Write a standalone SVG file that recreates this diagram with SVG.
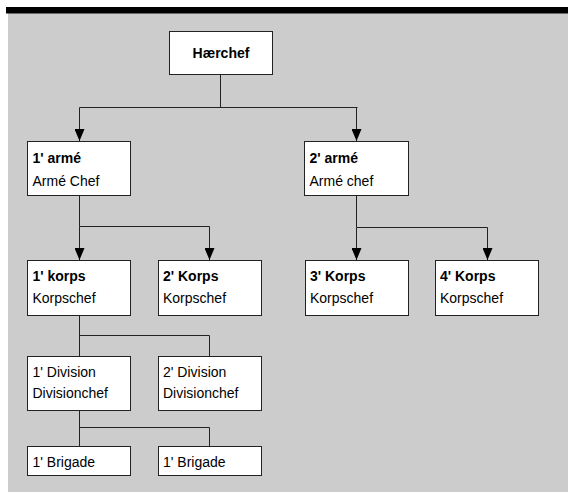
<svg xmlns="http://www.w3.org/2000/svg" width="568" height="492" viewBox="0 0 568 492">
<style>
.box{fill:#fff;stroke:#222;stroke-width:1}
.ln{fill:none;stroke:#222;stroke-width:1}
text{font-family:"Liberation Sans",Arial,sans-serif;font-size:14px;fill:#000}
.b{font-weight:bold}
</style>
<defs>
<marker id="arr" viewBox="0 0 12 10" refX="12" refY="5" markerWidth="12" markerHeight="10" markerUnits="userSpaceOnUse" orient="auto">
<path d="M0,0 L12,5 L0,10 z" fill="#000"/>
</marker>
</defs>
<rect x="0" y="0" width="568" height="492" fill="#fff"/>
<rect x="8" y="13" width="560" height="479" fill="#cccccc"/>
<rect x="6" y="7" width="562" height="6.5" fill="#000"/>
<g id="connectors">
<path class="ln" d="M220.5,75 V107.5 M79.5,107.5 H357.5"/>
<path class="ln" d="M79.5,107.5 V141" marker-end="url(#arr)"/>
<path class="ln" d="M356.5,107.5 V141" marker-end="url(#arr)"/>
<path class="ln" d="M79.5,196 V226.5 H209.5"/>
<path class="ln" d="M79.5,226.5 V260" marker-end="url(#arr)"/>
<path class="ln" d="M209.5,226.5 V260" marker-end="url(#arr)"/>
<path class="ln" d="M356.5,196 V227.5 H487.5"/>
<path class="ln" d="M356.5,227.5 V260" marker-end="url(#arr)"/>
<path class="ln" d="M487.5,227.5 V260" marker-end="url(#arr)"/>
<path class="ln" d="M79.5,316 V356 M79.5,335.5 H209.5 V356"/>
<path class="ln" d="M79.5,411 V446 M79.5,427.5 H209.5 V446"/>
</g>
<g id="haerchef"><rect class="box" x="169.5" y="31.5" width="103" height="43"/><text class="b" x="221" y="58" text-anchor="middle">Hærchef</text></g>
<g id="arme1"><rect class="box" x="27.5" y="141.5" width="103" height="54"/><text class="b" x="32.5" y="162.5">1' armé</text><text x="32.5" y="185.5">Armé Chef</text></g>
<g id="arme2"><rect class="box" x="304.5" y="141.5" width="104" height="54"/><text class="b" x="309.5" y="162.5">2' armé</text><text x="309.5" y="185.5">Armé chef</text></g>
<g id="korps1"><rect class="box" x="27.5" y="260.5" width="103" height="55"/><text class="b" x="32.5" y="281">1' korps</text><text x="32.5" y="303">Korpschef</text></g>
<g id="korps2"><rect class="box" x="158.5" y="260.5" width="103" height="55"/><text class="b" x="163" y="281">2' Korps</text><text x="163" y="303">Korpschef</text></g>
<g id="korps3"><rect class="box" x="305.5" y="260.5" width="103" height="55"/><text class="b" x="310" y="281">3' Korps</text><text x="310" y="303">Korpschef</text></g>
<g id="korps4"><rect class="box" x="435.5" y="260.5" width="103" height="55"/><text class="b" x="440" y="281">4' Korps</text><text x="440" y="303">Korpschef</text></g>
<g id="division1"><rect class="box" x="27.5" y="356.5" width="103" height="54"/><text x="32.5" y="377">1' Division</text><text x="32.5" y="398">Divisionchef</text></g>
<g id="division2"><rect class="box" x="158.5" y="356.5" width="103" height="54"/><text x="163" y="377">2' Division</text><text x="163" y="398">Divisionchef</text></g>
<g id="brigade1"><rect class="box" x="27.5" y="446.5" width="103" height="29"/><text x="32.5" y="467">1' Brigade</text></g>
<g id="brigade2"><rect class="box" x="158.5" y="446.5" width="103" height="29"/><text x="163" y="467">1' Brigade</text></g>
</svg>
